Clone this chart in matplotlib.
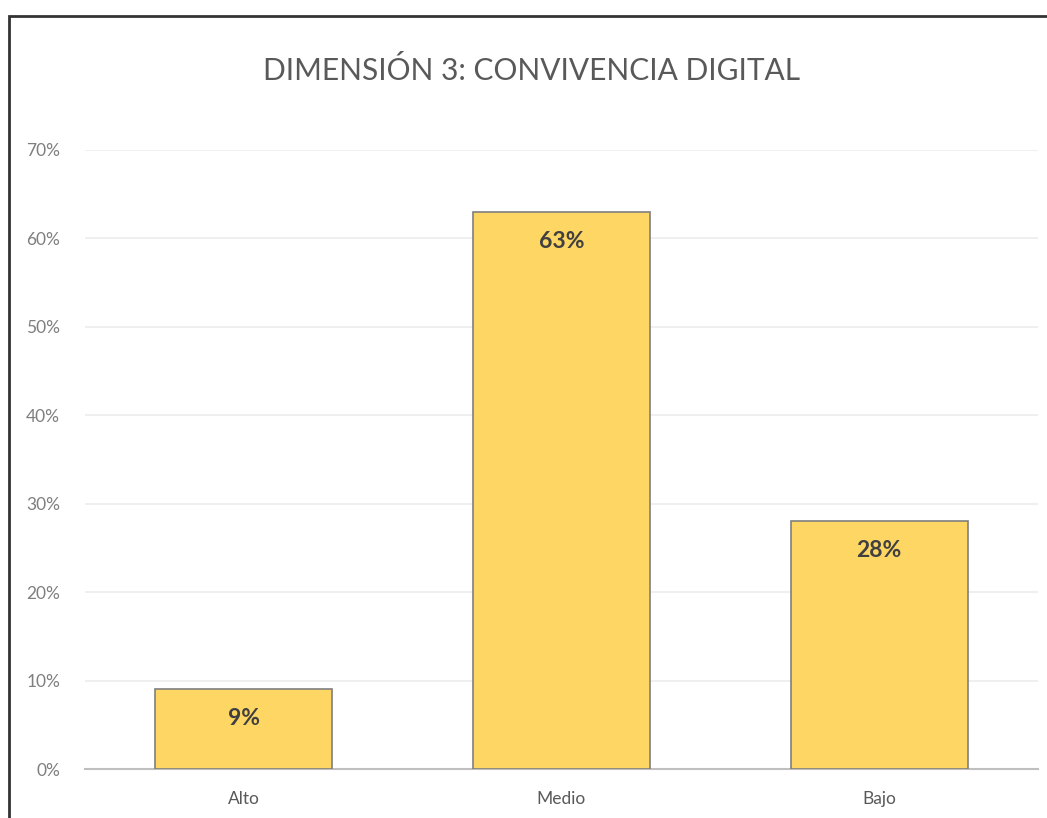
import matplotlib.pyplot as plt
from matplotlib.patches import Rectangle
from matplotlib.ticker import PercentFormatter

categories = ['Alto', 'Medio', 'Bajo']
values = [0.09, 0.63, 0.28]
labels = ['9%', '63%', '28%']
y_ticks = [0, 0.1, 0.2, 0.3, 0.4, 0.5, 0.6, 0.7]

W, H = 1047, 818
fig = plt.figure(figsize=(W / 100, H / 100), dpi=100)
plt.rcParams['font.family'] = ['Lato', 'DejaVu Sans']

# plot area in pixels: x 85..1038, y 150..769
ax = fig.add_axes([85 / W, (H - 769) / H, (1038 - 85) / W, (769 - 150) / H])

bars = ax.bar(categories, values, width=0.557, color='#FDD663',
              edgecolor='#7f7f7f', linewidth=1.2, zorder=3)

for bar, lab in zip(bars, labels):
    ax.annotate(lab, (bar.get_x() + bar.get_width() / 2, bar.get_height()),
                xytext=(0, -21), textcoords='offset points',
                ha='center', va='center', fontsize=16.5, fontweight='bold',
                color='#404040')

ax.set_xlim(-0.5, 2.5)
ax.set_ylim(0, 0.7)
ax.set_yticks(y_ticks)
ax.yaxis.set_major_formatter(PercentFormatter(1.0, decimals=0))
ax.grid(axis='y', color='#ececec', linewidth=1.2, zorder=0)
ax.set_axisbelow(True)

for side in ['top', 'right', 'left']:
    ax.spines[side].set_visible(False)
ax.spines['bottom'].set_color('#bfbfbf')
ax.spines['bottom'].set_linewidth(1.5)

ax.tick_params(axis='y', length=0, pad=18, labelsize=12.5, labelcolor='#7f7f7f')
ax.tick_params(axis='x', length=0, pad=16, labelsize=12.5, labelcolor='#595959')

fig.text(532 / W, 1 - 70 / H, 'DIMENSIÓN 3: CONVIVENCIA DIGITAL',
         ha='center', va='center', fontsize=21.5, color='#595959')

# chart frame (left and top edges visible)
fig.add_artist(Rectangle((9 / W, -0.1), 1.2, 1.1 - 16 / H,
                         transform=fig.transFigure, fill=False,
                         edgecolor='#333333', linewidth=2))

fig.savefig('out.png', dpi=100)
